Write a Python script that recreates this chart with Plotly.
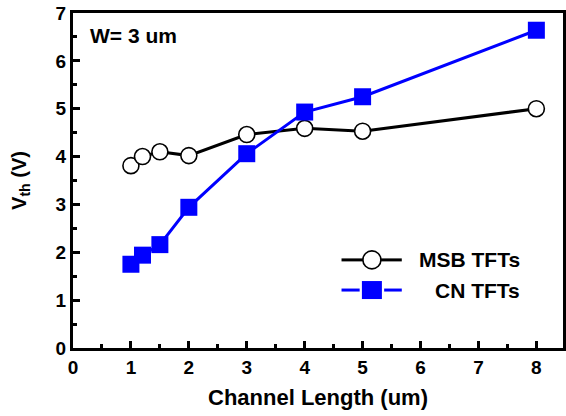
import plotly.graph_objects as go

# Threshold voltage vs. channel length, W = 3 um
channel_length = [1, 1.2, 1.5, 2, 3, 4, 5, 8]
vth_msb = [3.81, 4.00, 4.10, 4.02, 4.46, 4.59, 4.53, 5.00]
vth_cn = [1.75, 1.94, 2.16, 2.94, 4.06, 4.93, 5.25, 6.64]

series_names = ["MSB TFTs", "CN TFTs"]
BLUE = "#0000FF"
FONT = "Liberation Sans"

fig = go.Figure()
fig.add_trace(go.Scatter(
    x=channel_length, y=vth_msb, mode="lines+markers", name=series_names[0],
    line=dict(color="black", width=3),
    marker=dict(symbol="circle", size=16, color="white",
                line=dict(color="black", width=1.6)),
))
fig.add_trace(go.Scatter(
    x=channel_length, y=vth_cn, mode="lines+markers", name=series_names[1],
    line=dict(color=BLUE, width=3),
    marker=dict(symbol="square", size=17, color=BLUE, line=dict(width=0)),
))

axis_common = dict(
    showline=True, linecolor="black", linewidth=3, mirror=True,
    ticks="inside", ticklen=7, tickwidth=2.5, tickcolor="black",
    showgrid=False, zeroline=False,
    tickfont=dict(family=FONT, size=19, color="black", weight="bold"),
    minor=dict(ticks="inside", ticklen=4, tickwidth=2.5, tickcolor="black",
               dtick=0.5, showgrid=False),
)

fig.update_xaxes(
    range=[0, 8.46], dtick=1, tick0=0, **axis_common,
    title=dict(text="Channel Length (um)", standoff=13,
               font=dict(family=FONT, size=22, color="black", weight="bold")),
)
fig.update_yaxes(
    range=[0, 7], dtick=1, tick0=0, **axis_common,
    title=dict(text="V<sub>th</sub> (V)", standoff=24,
               font=dict(family=FONT, size=20, color="black", weight="bold")),
)

# Hand-drawn legend in the lower right of the plot area
legend_rows = [
    dict(y=0.263, color="black", marker="circle", gap=0.0),
    dict(y=0.173, color=BLUE, marker="square", gap=0.025),
]
LEG_X0, LEG_XC, LEG_X1 = 0.548, 0.61, 0.671
shapes = []
annotations = []
for name, row in zip(series_names, legend_rows):
    for xa, xb in ((LEG_X0, LEG_XC - row["gap"]), (LEG_XC + row["gap"], LEG_X1)):
        shapes.append(dict(type="line", xref="paper", yref="paper",
                           x0=xa, x1=xb, y0=row["y"], y1=row["y"],
                           line=dict(color=row["color"], width=3)))
    if row["marker"] == "circle":
        shapes.append(dict(type="circle", xref="paper", yref="paper",
                           xsizemode="pixel", ysizemode="pixel",
                           xanchor=LEG_XC, yanchor=row["y"],
                           x0=-9, x1=9, y0=-9, y1=9,
                           fillcolor="white", line=dict(color="black", width=1.6)))
    else:
        shapes.append(dict(type="rect", xref="paper", yref="paper",
                           xsizemode="pixel", ysizemode="pixel",
                           xanchor=LEG_XC, yanchor=row["y"],
                           x0=-10, x1=10, y0=-9, y1=9,
                           fillcolor=BLUE, line=dict(width=0)))
    annotations.append(dict(text=name, xref="paper", yref="paper",
                            x=0.916, y=row["y"], xanchor="right", yanchor="middle",
                            showarrow=False,
                            font=dict(family=FONT, size=21, color="black", weight="bold")))

annotations.append(dict(text="W= 3 um", xref="paper", yref="paper",
                        x=0.03, y=0.934, xanchor="left", yanchor="middle",
                        showarrow=False,
                        font=dict(family=FONT, size=21, color="black", weight="bold")))

fig.update_layout(
    width=566, height=416,
    margin=dict(l=73, r=3, t=13, b=68, autoexpand=False),
    paper_bgcolor="white", plot_bgcolor="white",
    showlegend=False,
    shapes=shapes, annotations=annotations,
    font=dict(family=FONT, color="black"),
)

fig.write_html("out.html")
